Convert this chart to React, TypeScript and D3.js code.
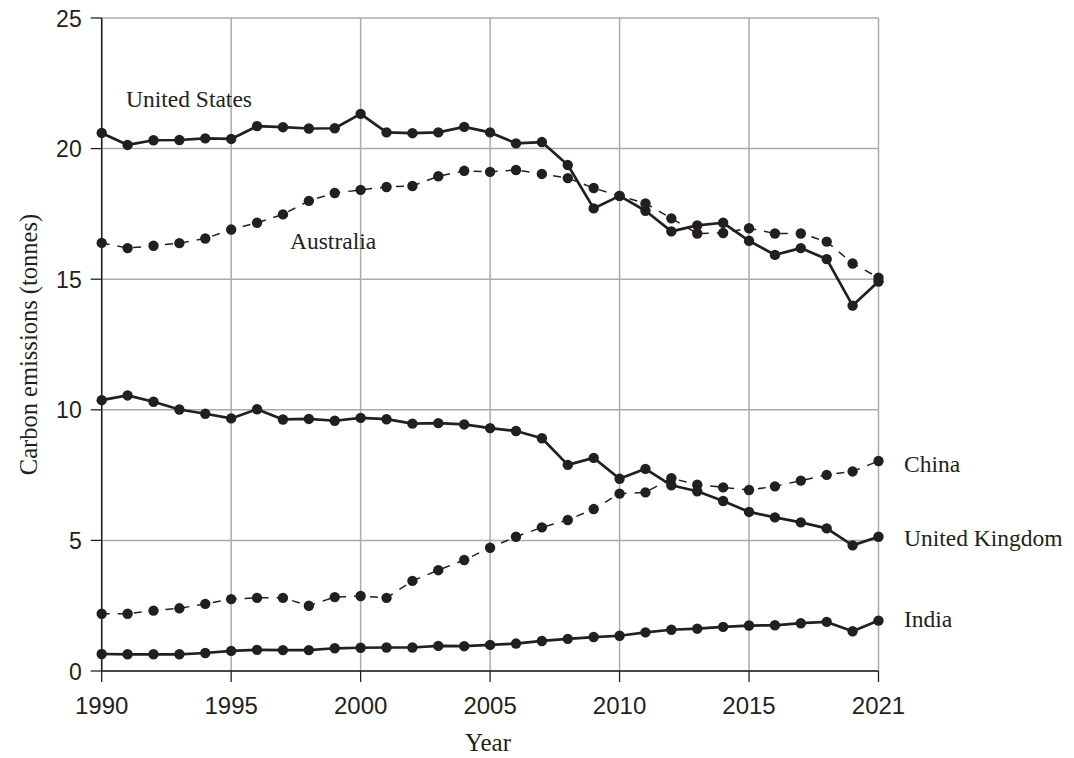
import React from "react";
import * as d3 from "d3";

const xTickLabels = ["1990", "1995", "2000", "2005", "2010", "2015", "2021"];
const yTicks = [0, 5, 10, 15, 20, 25];

const unitedStates = [20.6, 20.14, 20.32, 20.33, 20.39, 20.37, 20.86, 20.82, 20.77, 20.78, 21.33, 20.62, 20.59, 20.62, 20.83, 20.62, 20.2, 20.25, 19.37, 17.71, 18.19, 17.62, 16.83, 17.06, 17.16, 16.47, 15.93, 16.19, 15.77, 13.99, 14.91];
const australia = [16.39, 16.19, 16.28, 16.38, 16.56, 16.9, 17.16, 17.48, 18.0, 18.3, 18.42, 18.53, 18.57, 18.94, 19.15, 19.11, 19.18, 19.03, 18.87, 18.49, 18.19, 17.9, 17.33, 16.75, 16.77, 16.95, 16.75, 16.75, 16.44, 15.6, 15.06];
const unitedKingdom = [10.37, 10.55, 10.31, 10.01, 9.85, 9.67, 10.02, 9.63, 9.65, 9.58, 9.69, 9.64, 9.47, 9.49, 9.44, 9.3, 9.19, 8.91, 7.89, 8.16, 7.36, 7.74, 7.11, 6.88, 6.51, 6.09, 5.88, 5.69, 5.46, 4.81, 5.14];
const china = [2.19, 2.19, 2.31, 2.4, 2.57, 2.75, 2.8, 2.8, 2.5, 2.83, 2.87, 2.8, 3.45, 3.86, 4.25, 4.72, 5.14, 5.5, 5.78, 6.2, 6.79, 6.84, 7.38, 7.13, 7.03, 6.93, 7.07, 7.29, 7.51, 7.64, 8.04];
const india = [0.65, 0.64, 0.64, 0.64, 0.69, 0.77, 0.81, 0.8, 0.8, 0.87, 0.89, 0.9, 0.9, 0.96, 0.95, 1.0, 1.05, 1.15, 1.23, 1.3, 1.35, 1.48, 1.58, 1.62, 1.69, 1.74, 1.75, 1.83, 1.88, 1.52, 1.93];

const seriesList = [
  { name: "United States", values: unitedStates, dashed: false },
  { name: "Australia", values: australia, dashed: true },
  { name: "United Kingdom", values: unitedKingdom, dashed: false },
  { name: "China", values: china, dashed: true },
  { name: "India", values: india, dashed: false },
];

const W = 1074;
const H = 758;
const left = 101.7;
const right = 878.5;
const top = 18;
const bottom = 671;
const INK = "#231f20";
const GRID = "#ababab";
const serif = "'Liberation Serif', 'Times New Roman', serif";
const sans = "'Liberation Sans', Arial, sans-serif";

export default function App() {
  const n = unitedStates.length;
  const x = d3.scaleLinear().domain([0, n - 1]).range([left, right]);
  const y = d3.scaleLinear().domain([0, 25]).range([bottom, top]);
  const tickIdx = xTickLabels.map((_, i) => i * 5);
  const line = d3
    .line<number>()
    .x((_, i) => x(i))
    .y((v) => y(v));

  const labelPos: Record<string, [number, number]> = {
    "United States": [126, 107],
    Australia: [290, 249],
    China: [904, 472],
    "United Kingdom": [904, 546],
    India: [904, 627],
  };

  return (
    <svg
      width={W}
      height={H}
      style={{ position: "absolute", left: 0, top: 0, background: "#fff" }}
    >
      {tickIdx.map((t) => (
        <line key={"gx" + t} x1={x(t)} x2={x(t)} y1={top} y2={bottom} stroke={GRID} strokeWidth={1.5} />
      ))}
      {yTicks.map((t) => (
        <line key={"gy" + t} x1={left} x2={right} y1={y(t)} y2={y(t)} stroke={GRID} strokeWidth={1.5} />
      ))}
      <line x1={left} x2={left} y1={top} y2={bottom} stroke={INK} strokeWidth={1.5} />
      <line x1={left} x2={right} y1={bottom} y2={bottom} stroke={INK} strokeWidth={1.5} />
      {yTicks.map((t) => (
        <g key={"yt" + t}>
          <line x1={left - 11} x2={left} y1={y(t)} y2={y(t)} stroke={INK} strokeWidth={1.3} />
          <text x={left - 20} y={y(t) + 8.5} textAnchor="end" fontFamily={sans} fontSize={23} fill={INK}>
            {t}
          </text>
        </g>
      ))}
      {tickIdx.map((t, i) => (
        <g key={"xt" + t}>
          <line x1={x(t)} x2={x(t)} y1={bottom} y2={bottom + 11} stroke={INK} strokeWidth={1.3} />
          <text x={x(t)} y={714} textAnchor="middle" fontFamily={sans} fontSize={24} fill={INK}>
            {xTickLabels[i]}
          </text>
        </g>
      ))}
      <text x={488} y={751} textAnchor="middle" fontFamily={serif} fontSize={25} fill={INK}>
        Year
      </text>
      <text
        transform={`translate(37,${(top + bottom) / 2}) rotate(-90)`}
        textAnchor="middle"
        fontFamily={serif}
        fontSize={24.5}
        fill={INK}
      >
        Carbon emissions (tonnes)
      </text>
      {seriesList.map((s) => (
        <g key={s.name}>
          <path
            d={line(s.values) || ""}
            fill="none"
            stroke={INK}
            strokeWidth={s.dashed ? 1.5 : 2.7}
            strokeDasharray={s.dashed ? "8,8" : undefined}
            strokeLinejoin="round"
          />
          {s.values.map((v, i) => (
            <circle key={i} cx={x(i)} cy={y(v)} r={5.2} fill={INK} />
          ))}
          <text
            x={labelPos[s.name][0]}
            y={labelPos[s.name][1]}
            fontFamily={serif}
            fontSize={23.5}
            fill={INK}
          >
            {s.name}
          </text>
        </g>
      ))}
    </svg>
  );
}
